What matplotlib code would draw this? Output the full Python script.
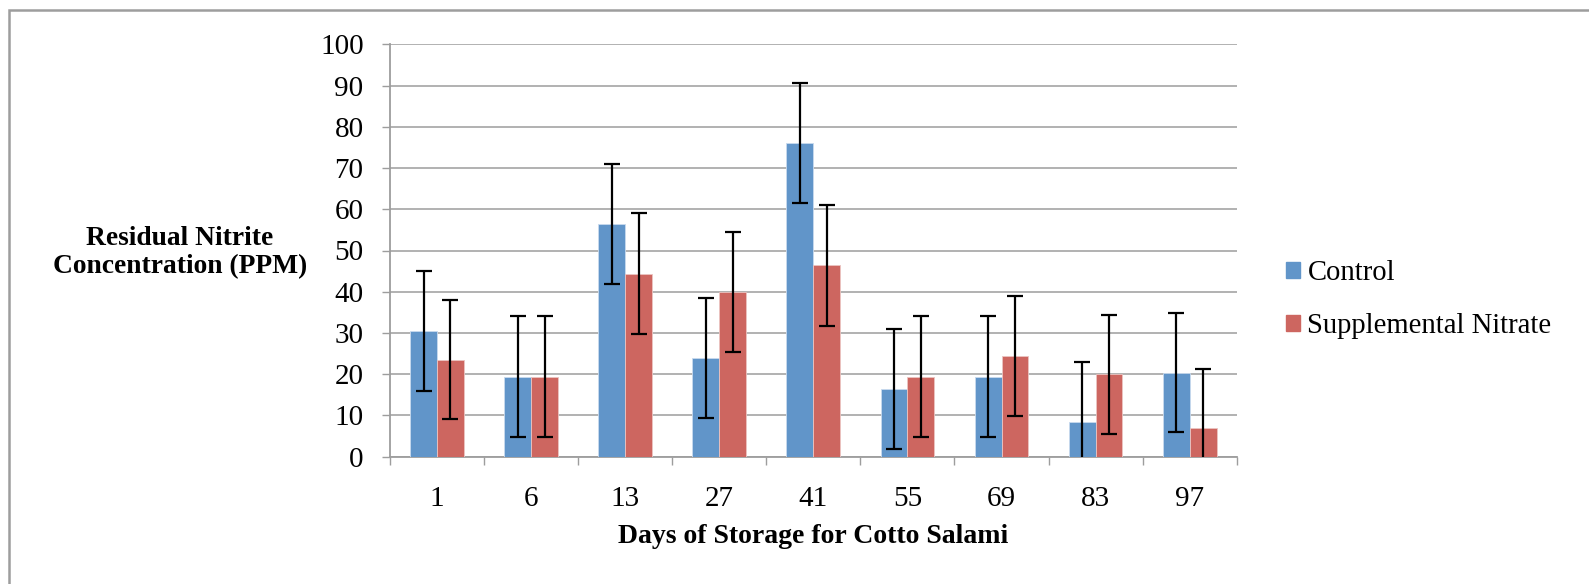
import numpy as np
import matplotlib.pyplot as plt
from matplotlib.patches import Rectangle, Patch

#Data

days = ["1", "6", "13", "27", "41", "55", "69", "83", "97"]
control = [30.5, 19.4, 56.4, 23.9, 76.0, 16.4, 19.4, 8.4, 20.4]
supplemental = [23.5, 19.4, 44.4, 39.9, 46.4, 19.4, 24.4, 20.0, 6.9]
control_err = [14.6, 14.6, 14.5, 14.5, 14.5, 14.6, 14.6, 14.5, 14.5]
supplemental_err = [14.4, 14.6, 14.6, 14.5, 14.6, 14.6, 14.5, 14.4, 14.4]

series_names = ["Control", "Supplemental Nitrate"]

#Style

blue = "#6195C9"
red = "#CD6660"
grey = "#9D9D9D"
font = "Liberation Serif"

plt.rcParams['font.family'] = [font, 'DejaVu Serif']

W, H = 1589, 584
fig = plt.figure(figsize=(W / 100, H / 100), dpi=100)
ax = fig.add_axes([390 / W, 1 - 456.7 / H, (1236.7 - 390) / W, (456.7 - 44.3) / H])

x = np.arange(len(days))
w = 1 / 3.5

#Bars

ax.bar(x - w / 2, control, w, color=blue, edgecolor="#C9DAEE", linewidth=0.6, zorder=3)
ax.bar(x + w / 2, supplemental, w, color=red, edgecolor="#EBC4C1", linewidth=0.6, zorder=3)

ax.errorbar(x - w / 2, control, yerr=control_err, fmt='none', ecolor='black',
            elinewidth=1.6, capsize=5.8, capthick=1.6, zorder=4)
ax.errorbar(x + w / 2, supplemental, yerr=supplemental_err, fmt='none', ecolor='black',
            elinewidth=1.6, capsize=5.8, capthick=1.6, zorder=4)

#Axes

ax.set_xlim(-0.5, len(days) - 0.5)
ax.set_ylim(0, 100)
ax.set_yticks(range(0, 101, 10))
ax.set_xticks(x)
ax.set_xticklabels(days)
ax.set_xticks(np.arange(len(days) + 1) - 0.5, minor=True)

ax.grid(axis='y', color=grey, linewidth=1.1, zorder=0)
ax.set_axisbelow(True)

for s in ["top", "right"]:
    ax.spines[s].set_visible(False)
for s in ["left", "bottom"]:
    ax.spines[s].set_color(grey)
    ax.spines[s].set_linewidth(1.3)

ax.tick_params(axis='y', length=6, width=1, color=grey, labelsize=21, pad=13)
ax.tick_params(axis='x', which='major', length=0, labelsize=21, pad=21)
ax.tick_params(axis='x', which='minor', length=6, width=1, color=grey)

ax.set_xlabel("Days of Storage for Cotto Salami", fontsize=20, fontweight='bold', labelpad=9)

fig.text(180 / W, 1 - 253 / H, "Residual Nitrite\nConcentration (PPM)", ha='center', va='center',
         fontsize=19.8, fontweight='bold', linespacing=1.16)

#Legend

handles = [Patch(color=blue), Patch(color=red)]
ax.legend(handles, series_names, loc='center left', bbox_to_anchor=(1286 / W, 1 - 299.5 / H),
          bbox_transform=fig.transFigure, frameon=False, fontsize=20.6,
          handlelength=0.5, handleheight=0.5, handletextpad=0.25, labelspacing=0.95,
          borderpad=0, borderaxespad=0)

#Outer frame

fig.patches.append(Rectangle((8.5 / W, -0.05), 1.2, 1.05 - 9.5 / H, transform=fig.transFigure,
                             fill=False, edgecolor=grey, linewidth=1.8))

fig.savefig("out.png", dpi=100)
